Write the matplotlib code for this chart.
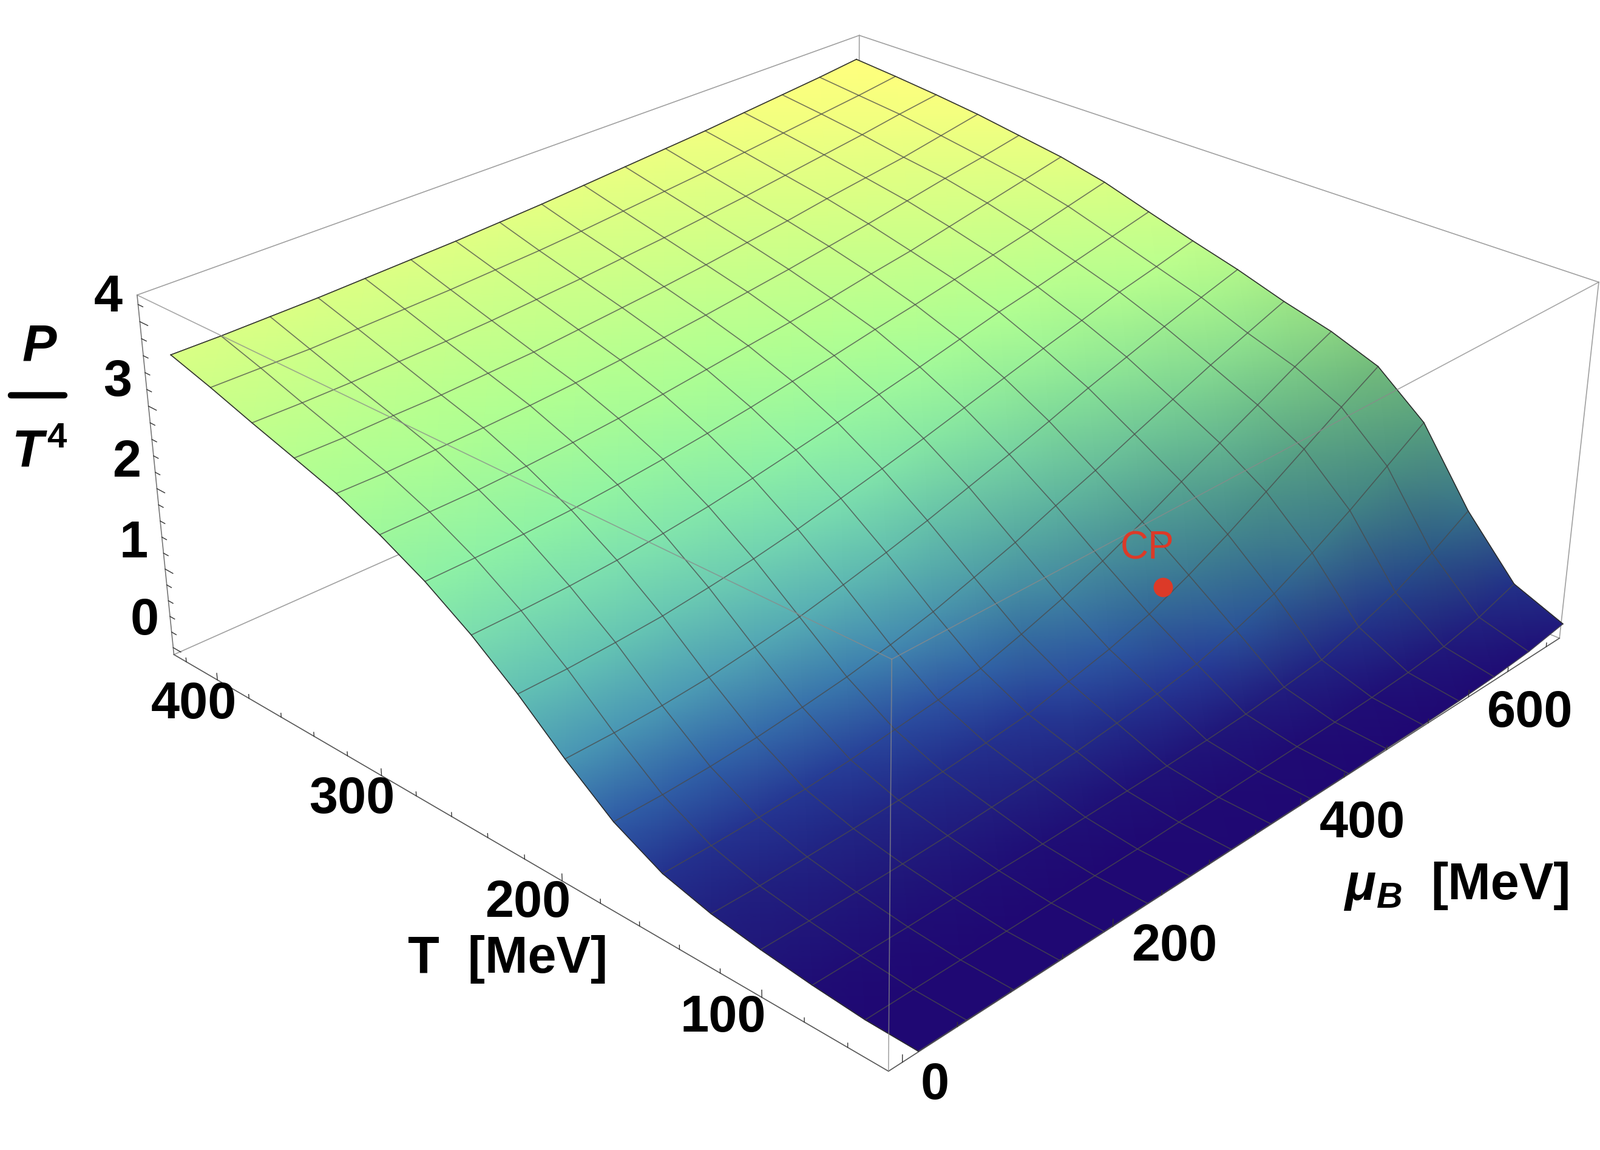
import numpy as np
import matplotlib
matplotlib.use('Agg')
import matplotlib.pyplot as plt
from matplotlib.colors import LinearSegmentedColormap
from mpl_toolkits.mplot3d import proj3d

W, H = 2636, 1894

plt.rcParams['font.family'] = ['Liberation Sans', 'DejaVu Sans']
plt.rcParams['mathtext.fontset'] = 'custom'
plt.rcParams['mathtext.rm'] = 'Liberation Sans:bold'
plt.rcParams['mathtext.it'] = 'Liberation Sans:italic:bold'
plt.rcParams['mathtext.bf'] = 'Liberation Sans:bold'

# mesh lines of the surface
t_vals = [39, 63, 87.5, 112, 136, 160, 184.5, 209, 233, 257, 281.5, 306, 330, 354, 378.5, 403, 427]
mu_vals = [9, 53, 97, 141, 185, 229, 273, 317, 360, 404, 448, 492, 536, 580, 624, 668, 712]

# P/T^4 along each T line, one value per mu line
p_t039 = [0, 0, 0, 0, 0, 0, 0, 0, 0, 0, 0, .01, .01, .02, .04, .08, .16]
p_t063 = [.01, .01, .01, .01, .01, .01, .01, .02, .02, .03, .04, .05, .07, .1, .15, .25, .41]
p_t087 = [.06, .06, .06, .07, .07, .07, .08, .09, .1, .12, .15, .2, .26, .4, .57, .81, 1.09]
p_t112 = [.13, .13, .14, .15, .17, .2, .23, .27, .33, .4, .49, .64, .82, 1.07, 1.35, 1.66, 1.97]
p_t136 = [.22, .22, .24, .26, .29, .33, .38, .44, .56, .68, .84, 1.06, 1.31, 1.59, 1.88, 2.17, 2.45]
p_t160 = [.37, .38, .4, .43, .48, .55, .62, .72, .87, 1.04, 1.24, 1.47, 1.72, 1.96, 2.2, 2.45, 2.67]
p_t184 = [.66, .67, .7, .75, .82, .9, 1.01, 1.14, 1.3, 1.47, 1.67, 1.86, 2.07, 2.27, 2.47, 2.65, 2.83]
p_t209 = [1.09, 1.1, 1.13, 1.18, 1.26, 1.35, 1.47, 1.6, 1.74, 1.9, 2.06, 2.23, 2.41, 2.57, 2.73, 2.88, 3.02]
p_t233 = [1.56, 1.57, 1.6, 1.64, 1.71, 1.79, 1.89, 2.01, 2.13, 2.26, 2.4, 2.54, 2.68, 2.81, 2.95, 3.06, 3.18]
p_t257 = [1.97, 1.98, 2, 2.04, 2.1, 2.17, 2.26, 2.36, 2.46, 2.57, 2.68, 2.8, 2.92, 3.02, 3.13, 3.24, 3.35]
p_t281 = [2.32, 2.33, 2.35, 2.38, 2.43, 2.49, 2.56, 2.64, 2.73, 2.82, 2.92, 3.01, 3.11, 3.21, 3.31, 3.42, 3.53]
p_t306 = [2.6, 2.61, 2.62, 2.65, 2.69, 2.74, 2.8, 2.87, 2.94, 3.01, 3.09, 3.18, 3.26, 3.36, 3.46, 3.56, 3.66]
p_t330 = [2.83, 2.83, 2.85, 2.87, 2.9, 2.94, 2.99, 3.04, 3.1, 3.17, 3.24, 3.32, 3.4, 3.49, 3.58, 3.66, 3.75]
p_t354 = [3, 3, 3.02, 3.03, 3.06, 3.09, 3.14, 3.19, 3.24, 3.3, 3.37, 3.44, 3.52, 3.59, 3.66, 3.75, 3.84]
p_t378 = [3.17, 3.17, 3.18, 3.2, 3.22, 3.25, 3.29, 3.33, 3.38, 3.43, 3.49, 3.55, 3.62, 3.69, 3.76, 3.84, 3.91]
p_t403 = [3.35, 3.35, 3.35, 3.37, 3.39, 3.41, 3.44, 3.47, 3.51, 3.56, 3.61, 3.66, 3.72, 3.78, 3.84, 3.9, 3.97]
p_t427 = [3.51, 3.51, 3.52, 3.53, 3.55, 3.57, 3.59, 3.62, 3.65, 3.69, 3.73, 3.77, 3.81, 3.86, 3.91, 3.96, 4.02]

# critical point
cp_mu, cp_t, cp_p = 467, 138, 1.04

# box limits
mu_lim = (-12.4, 717.6)
t_lim = (41.6, 428.1)
p_lim = (-0.09, 4.31)

# axis ticks and where their labels sit (pixels)
t_labels = [100, 200, 300, 400]
t_label_xy = [(1191, 1677), (870, 1488), (580, 1317), (319, 1161)]
mu_labels = [0, 200, 400, 600]
mu_label_xy = [(1540, 1788), (1935, 1560), (2244, 1357), (2521, 1175)]
p_labels = [0, 1, 2, 3, 4]
p_label_xy = [(238, 1023), (220, 896), (209, 763), (194, 630), (178, 491)]

t_minor = [60, 80, 100, 120, 140, 160, 180, 200, 220, 240, 260, 280, 300, 320, 340, 360, 380, 400, 420]
mu_minor = [0, 50, 100, 150, 200, 250, 300, 350, 400, 450, 500, 550, 600, 650, 700]
p_minor = [0, .2, .4, .6, .8, 1, 1.2, 1.4, 1.6, 1.8, 2, 2.2, 2.4, 2.6, 2.8, 3, 3.2, 3.4, 3.6, 3.8, 4, 4.2]

height_stops = [(-0.1, '#1f006e'), (0.05, '#1f0d75'), (0.15, '#201a7c'), (0.3, '#222a88'), (0.45, '#263a96'),
                (0.66, '#2f5ca6'), (0.9, '#3b7bad'), (1.1, '#4a97b4'), (1.55, '#62c0b4'), (2.0, '#7cdfaf'),
                (2.35, '#8ff2a5'), (2.9, '#b0ff92'), (3.5, '#d8ff85'), (4.0, '#ffff7d')]

fig = plt.figure(figsize=(W/100, H/100), dpi=100)

# 3D axes: gives the projection and draws what lies behind the surface
left, bottom, side = 221.3, 1992.4, 2365.4
ax3 = fig.add_axes([left/W, 1-bottom/H, side/W, side/H], projection='3d')
ax3.set_xlim(*mu_lim)
ax3.set_ylim(*t_lim)
ax3.set_zlim(*p_lim)
ax3.view_init(27.2986, -136.6157, -0.2743)
ax3.set_proj_type('persp', focal_length=0.44449)
ax3.set_box_aspect((1, 0.99045, 0.39776))
ax3.set_axis_off()
ax3.patch.set_visible(False)
M = ax3.get_proj()

# flat axes on top, same box, for the smooth shaded surface
ov = fig.add_axes(ax3.get_position())
ov.set_xlim(*ax3.viewLim.intervalx)
ov.set_ylim(*ax3.viewLim.intervaly)
ov.axis('off')


def project(mu, t, p):
    x, y, _ = proj3d.proj_transform(np.asarray(mu, float), np.asarray(t, float), np.asarray(p, float), M)
    return np.array(x), np.array(y)


def edge3(a, b, **kw):
    ax3.plot([a[0], b[0]], [a[1], b[1]], [a[2], b[2]], clip_on=False, **kw)


def edge(a, b, **kw):
    ov.plot(*project([a[0], b[0]], [a[1], b[1]], [a[2], b[2]]), clip_on=False, **kw)


mu0, mu1 = mu_lim
t0, t1 = t_lim
p0, p1 = p_lim
back = dict(color='#a0a0a0', lw=1.2)
side_line = dict(color='#777777', lw=1.2)
edge3((mu1, t1, p1), (mu0, t1, p1), **back)
edge3((mu1, t1, p1), (mu1, t0, p1), **back)
edge3((mu1, t1, p1), (mu1, t1, p0), **back)
edge3((mu0, t1, p0), (mu1, t1, p0), **back)
edge3((mu1, t0, p0), (mu1, t1, p0), **back)
edge3((mu0, t1, p0), (mu0, t1, p1), **side_line)
edge3((mu1, t0, p0), (mu1, t0, p1), **back)

# surface
mu_grid, t_grid = np.meshgrid(mu_vals, t_vals)
p_grid = np.array([p_t039, p_t063, p_t087, p_t112, p_t136, p_t160, p_t184, p_t209, p_t233,
                   p_t257, p_t281, p_t306, p_t330, p_t354, p_t378, p_t403, p_t427], float)
X, Y = project(mu_grid.ravel(), t_grid.ravel(), p_grid.ravel())
X = X.reshape(p_grid.shape)
Y = Y.reshape(p_grid.shape)

vals, cols = zip(*height_stops)
cmap = LinearSegmentedColormap.from_list('pressure', [((v-vals[0])/(vals[-1]-vals[0]), c) for v, c in zip(vals, cols)])
rgba = cmap((p_grid-vals[0])/(vals[-1]-vals[0]))
# light comes from the high mu side, so steep slopes rising towards it go darker
slope = np.gradient(p_grid, axis=1)*16*0.39776/(p1-p0)
shade = 1-1.0*np.clip(slope-0.17, 0, None)
rgba[..., :3] *= shade[..., None]

axis_line = dict(color='#555555', lw=1.2, zorder=1)
edge((mu0, t0, p0), (mu0, t1, p0), **axis_line)
edge((mu0, t0, p0), (mu1, t0, p0), **axis_line)

ov.pcolormesh(X, Y, rgba, shading='gouraud', zorder=2)

mesh = dict(color='#4a4a4a', alpha=0.75, lw=1.2, zorder=3)
for i in range(len(t_vals)):
    ov.plot(X[i], Y[i], **mesh)
for j in range(len(mu_vals)):
    ov.plot(X[:, j], Y[:, j], **mesh)
rim = dict(color='#222222', lw=1.0, alpha=0.8, zorder=3.5)
ov.plot(X[-1], Y[-1], **rim)
ov.plot(X[:, 0], Y[:, 0], **rim)
ov.plot(X[:, -1], Y[:, -1], **rim)

# box edges in front of the surface
front = dict(color='#8a8a8a', lw=1.2, alpha=0.75, zorder=4)
edge((mu0, t0, p1), (mu0, t1, p1), **front)
edge((mu0, t0, p1), (mu1, t0, p1), **front)
edge((mu0, t0, p1), (mu0, t0, p0), **front)

# ticks
tick = dict(color='#333333', lw=1.0, zorder=4)
for t in t_minor:
    size = 0.085 if t in t_labels else 0.05
    edge((mu0, t, p0), (mu0, t, p0+size), **tick)
for mu in mu_minor:
    size = 0.085 if mu in mu_labels else 0.05
    edge((mu, t0, p0), (mu, t0, p0+size), **tick)
for p in p_minor:
    size = 5 if p in p_labels else 3
    edge((mu0, t1, p), (mu0, t1-size, p), **tick)

# critical point
ov.plot(*project([cp_mu], [cp_t], [cp_p]), 'o', color='#dc3a28', ms=23, mew=0, zorder=6)


def label(xy, s, size=61, **kw):
    kw.setdefault('weight', 'bold')
    fig.text(xy[0]/W, 1-xy[1]/H, s, fontsize=size, ha='center', va='center', **kw)


for v, xy in zip(t_labels, t_label_xy):
    label(xy, str(v))
for v, xy in zip(mu_labels, mu_label_xy):
    label(xy, str(v))
for v, xy in zip(p_labels, p_label_xy):
    label(xy, str(v))
label((837, 1580), 'T  [MeV]')
label((2472, 1459), '[MeV]')
label((2262, 1462), r'$\mu_B$')
label((65, 572), 'P', style='italic')
label((46, 745), 'T', style='italic')
label((93, 722), '4', size=42)
fig.add_artist(plt.Line2D([18/W, 106/W], [1-651/H, 1-651/H], color='black', lw=7.5, solid_capstyle='round'))
label((1890, 903), 'CP', size=46, weight='normal', color='#dc3a28')

fig.savefig('out.png', dpi=100)
